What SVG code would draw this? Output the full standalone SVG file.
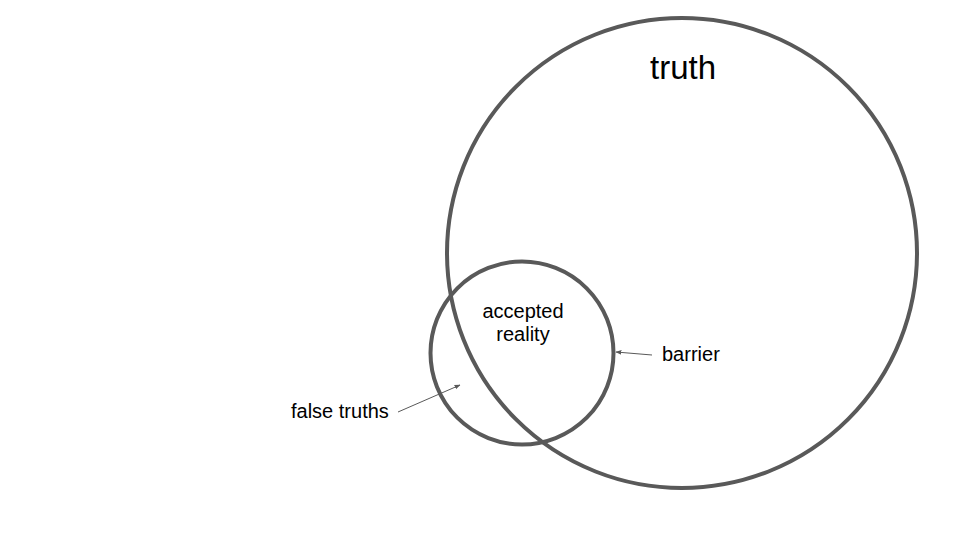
<svg xmlns="http://www.w3.org/2000/svg" width="960" height="540" viewBox="0 0 960 540">
<defs>
<style>
.c{fill:none;stroke:#595959;stroke-width:4}
.t{font-family:"Liberation Sans",Arial,sans-serif;fill:#000}
.a{stroke:#595959;stroke-width:1;fill:none}
</style>
<marker id="ah" viewBox="0 0 10 10" refX="9" refY="5" markerWidth="6" markerHeight="6" orient="auto" markerUnits="userSpaceOnUse">
<path d="M0,1 L10,5 L0,9 z" fill="#595959"/>
</marker>
</defs>
<rect width="960" height="540" fill="#fff"/>
<g id="truth">
<circle class="c" cx="682" cy="253" r="235"/>
<text class="t" x="683" y="79" font-size="33" text-anchor="middle">truth</text>
</g>
<g id="accepted-reality">
<circle class="c" cx="522" cy="353" r="91.5"/>
<text class="t" x="523" y="318" font-size="20" text-anchor="middle">accepted</text>
<text class="t" x="523" y="341" font-size="20" text-anchor="middle">reality</text>
</g>
<g id="false-truths">
<text class="t" x="291" y="418" font-size="20">false truths</text>
</g>
<g id="barrier">
<text class="t" x="662" y="361" font-size="20">barrier</text>
</g>
<g id="connectors">
<line class="a" x1="398" y1="412" x2="460" y2="385" marker-end="url(#ah)"/>
<line class="a" x1="652" y1="355" x2="616" y2="352" marker-end="url(#ah)"/>
</g>
</svg>
